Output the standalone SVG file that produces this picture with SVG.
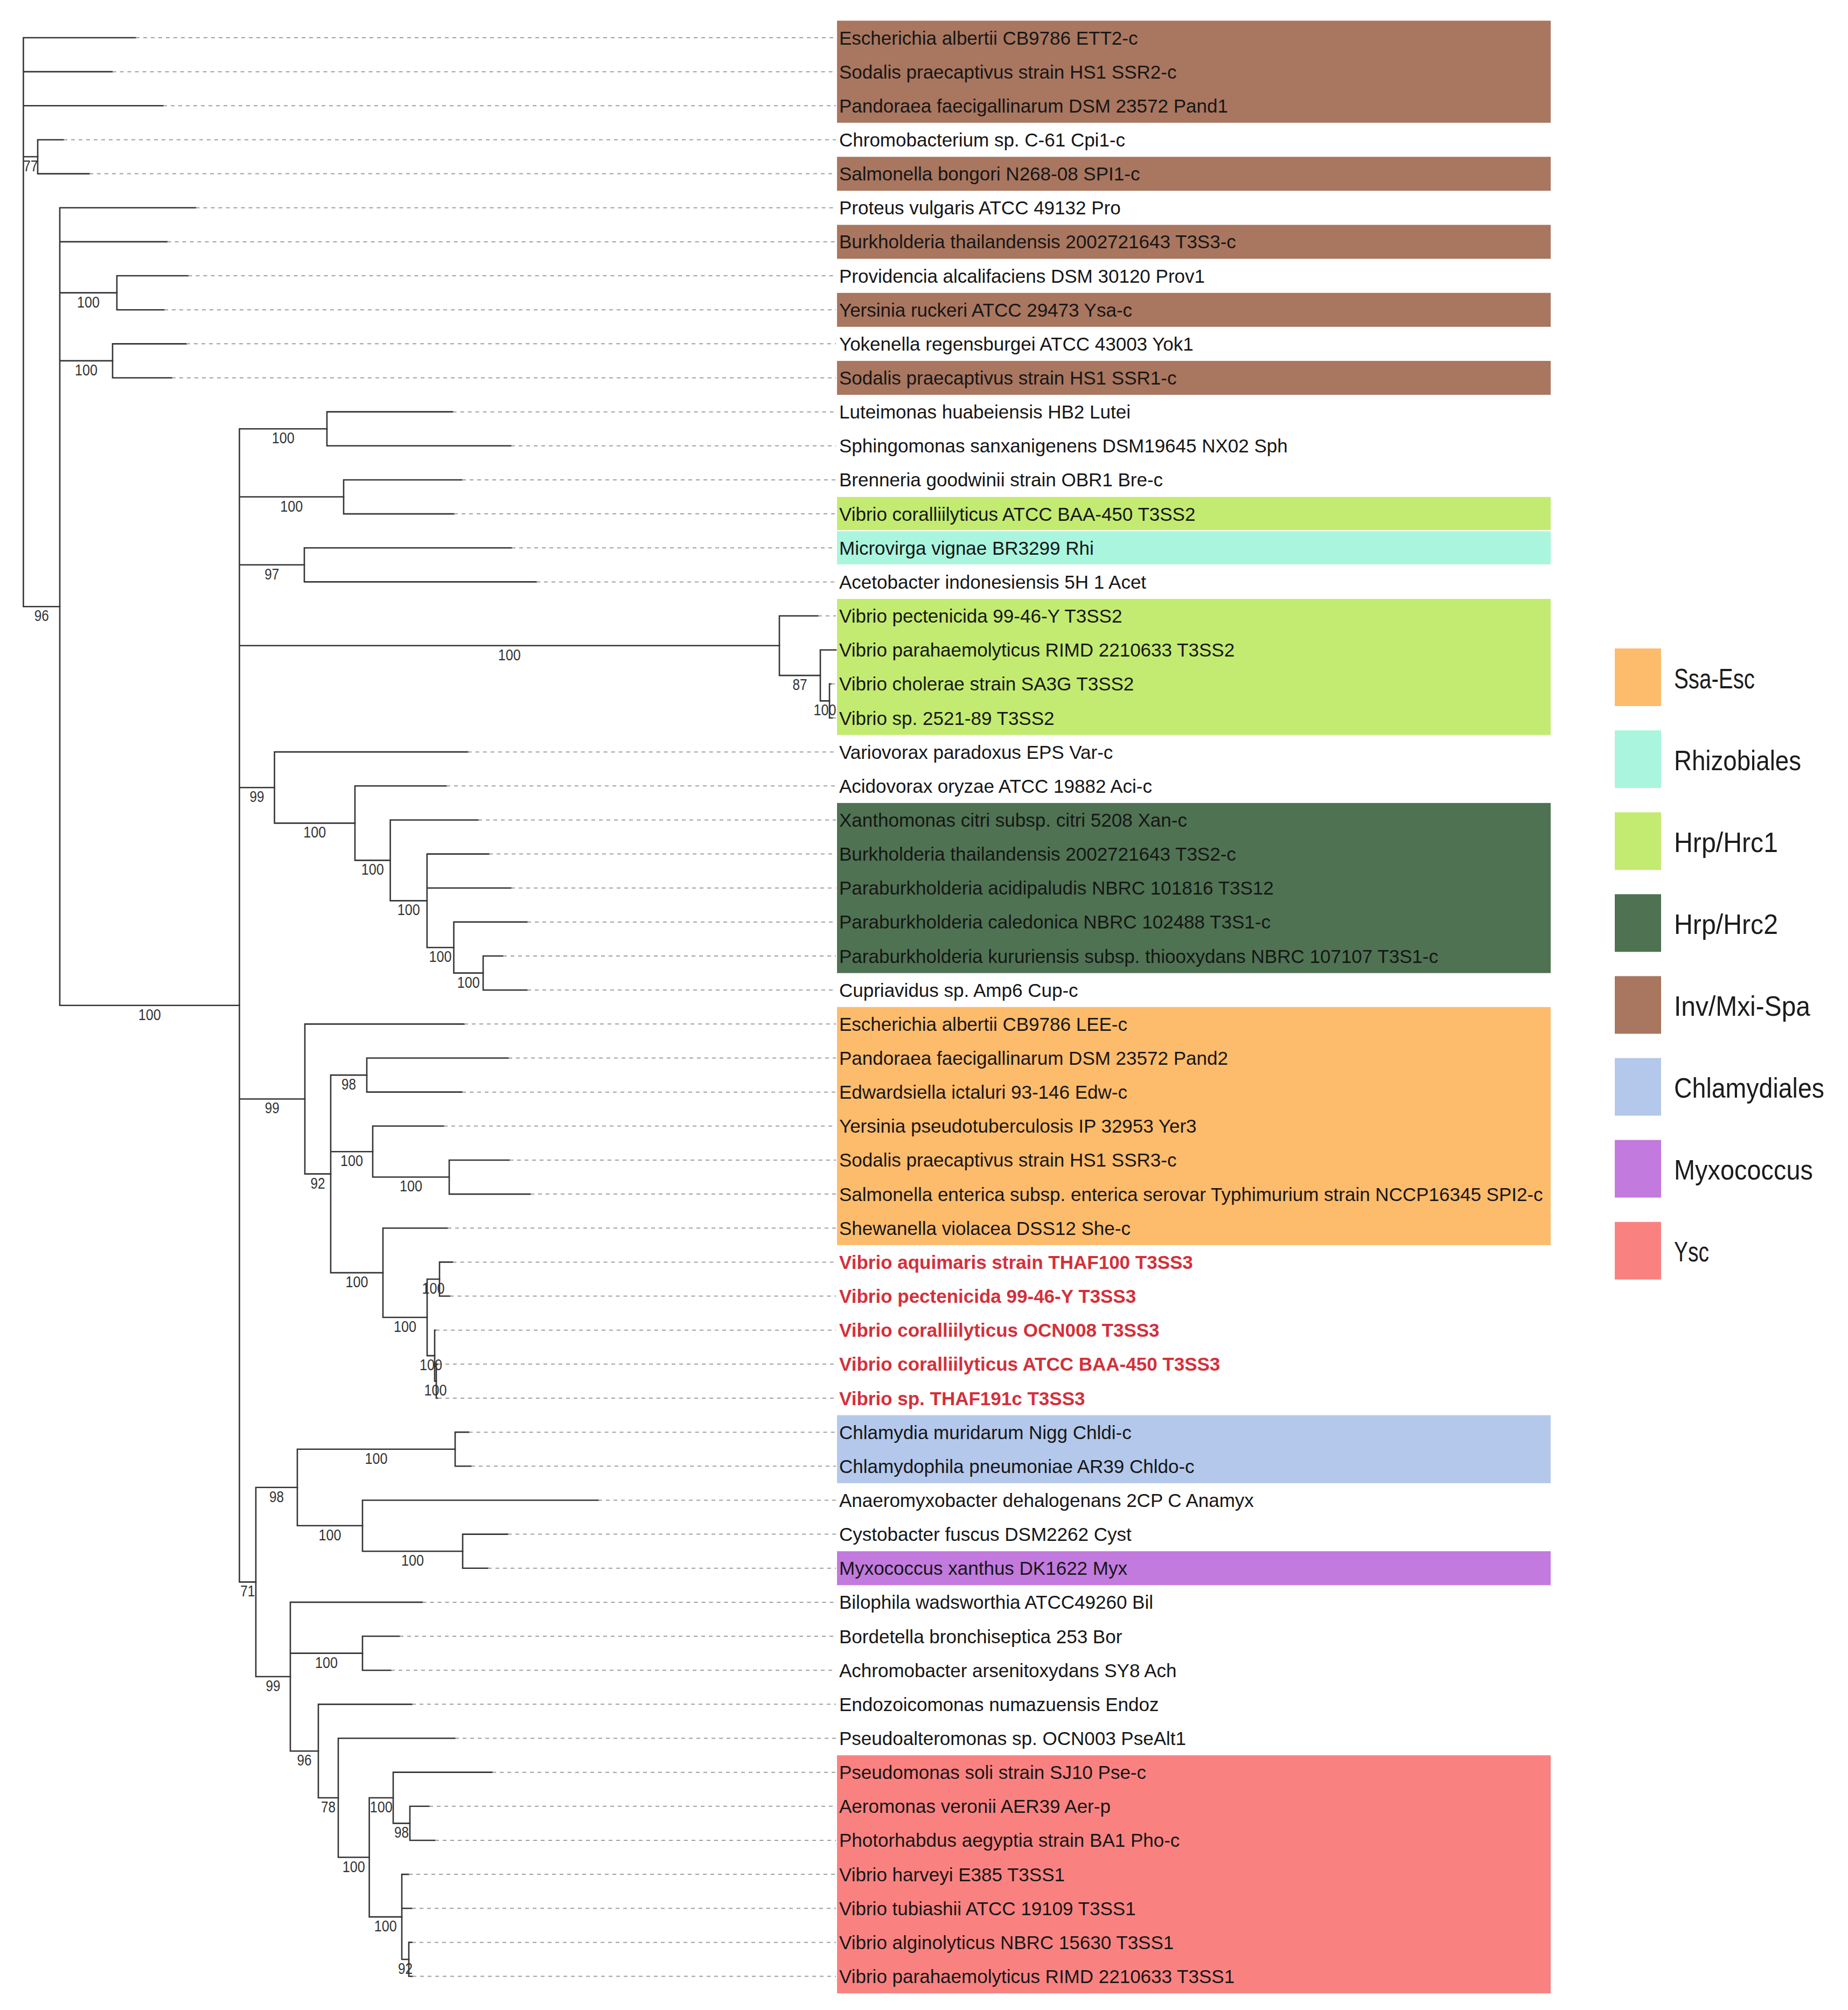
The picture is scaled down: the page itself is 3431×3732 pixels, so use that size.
<svg xmlns="http://www.w3.org/2000/svg" width="3431" height="3732" viewBox="0 0 3431 3732">
<style>
.br{stroke:#353535;stroke-width:2.6;fill:none;stroke-linecap:square}
.dot{stroke:#a0a0a0;stroke-width:2;stroke-dasharray:7 7;fill:none}
.lbl{font-family:"Liberation Sans",Arial,sans-serif;font-size:35px;fill:#161616}
.red{fill:#d4303a;font-weight:bold}
.bs{font-family:"Liberation Sans",Arial,sans-serif;font-size:29px;fill:#333;text-anchor:middle}
.lg{font-family:"Liberation Sans",Arial,sans-serif;font-size:52px;fill:#1c1c1c}
.inv{fill:#a9765f}.hrc1{fill:#c3eb71}.rhi{fill:#a9f5de}.hrc2{fill:#4f7252}.ssa{fill:#fdbb6c}.chl{fill:#b4c8eb}.myx{fill:#c27ade}.ysc{fill:#f98281}
</style>
<rect width="3431" height="3732" fill="#fff"/>
<g id="highlights">
<rect class="inv" x="1554" y="38.4" width="1325" height="189.5"/>
<rect class="inv" x="1554" y="291.2" width="1325" height="63"/>
<rect class="inv" x="1554" y="417.5" width="1325" height="63"/>
<rect class="inv" x="1554" y="543.8" width="1325" height="63"/>
<rect class="inv" x="1554" y="670.1" width="1325" height="63"/>
<rect class="hrc1" x="1554" y="922.7" width="1325" height="61.5"/>
<rect class="rhi" x="1554" y="986.4" width="1325" height="61.5"/>
<rect class="hrc1" x="1554" y="1112" width="1325" height="252.6"/>
<rect class="hrc2" x="1554" y="1490.9" width="1325" height="315.8"/>
<rect class="ssa" x="1554" y="1869.8" width="1325" height="442"/>
<rect class="chl" x="1554" y="2627.6" width="1325" height="126.3"/>
<rect class="myx" x="1554" y="2880.2" width="1325" height="63"/>
<rect class="ysc" x="1554" y="3259.1" width="1325" height="442"/>
</g>
<g id="connectors">
<path class="br" d="M43.4,70V1126.3M43.4,70H252M43.4,133.15H208.6M43.4,196.3H303M43.4,291H70M43.4,1126.3H111"/>
<path class="br" d="M70,259.45V322.6M70,259.45H118M70,322.6H166"/>
<path class="br" d="M111,385.75V1866.8M111,385.75H363.5M111,448.9H310.6M111,543.6H217M111,669.9H209M111,1866.8H444.5"/>
<path class="br" d="M217,512.05V575.2M217,512.05H349.5M217,575.2H305"/>
<path class="br" d="M209,638.35V701.5M209,638.35H346M209,701.5H319"/>
<path class="br" d="M444.5,796.2V2937.4M444.5,796.2H607M444.5,922.5H638M444.5,1048.8H565M444.5,1198.8H1447M444.5,1462.3H509.6M444.5,2040.5H566M444.5,2937.4H475"/>
<path class="br" d="M607,764.65V827.8M607,764.65H840.6M607,827.8H949"/>
<path class="br" d="M638,890.95V954.1M638,890.95H858M638,954.1H843"/>
<path class="br" d="M565,1017.25V1080.4M565,1017.25H950M565,1080.4H996"/>
<path class="br" d="M1447,1143.55V1254.1M1447,1143.55H1519M1447,1254.1H1523"/>
<path class="br" d="M1523,1206.7V1301.4M1523,1206.7H1552M1523,1301.4H1540"/>
<path class="br" d="M1540,1269.85V1333M1540,1269.85H1543M1540,1333H1546"/>
<path class="br" d="M509.6,1396.15V1528.4M509.6,1396.15H868.7M509.6,1528.4H659"/>
<path class="br" d="M659,1459.3V1597.4M659,1459.3H829M659,1597.4H724.6"/>
<path class="br" d="M724.6,1522.45V1672.4M724.6,1522.45H888M724.6,1672.4H792.8"/>
<path class="br" d="M792.8,1585.6V1759.3M792.8,1585.6H908M792.8,1648.75H949M792.8,1759.3H842.5"/>
<path class="br" d="M842.5,1711.9V1806.6M842.5,1711.9H979M842.5,1806.6H897"/>
<path class="br" d="M897,1775.05V1838.2M897,1775.05H934M897,1838.2H979"/>
<path class="br" d="M566,1901.35V2179.6M566,1901.35H862M566,2179.6H614"/>
<path class="br" d="M614,1996.1V2363.1M614,1996.1H681M614,2138.2H692M614,2363.1H711"/>
<path class="br" d="M681,1964.5V2027.65M681,1964.5H944M681,2027.65H858"/>
<path class="br" d="M692,2090.8V2185.5M692,2090.8H824M692,2185.5H834"/>
<path class="br" d="M834,2153.95V2217.1M834,2153.95H946M834,2217.1H985"/>
<path class="br" d="M711,2280.25V2446M711,2280.25H831M711,2446H793"/>
<path class="br" d="M793,2375V2517.1M793,2375H816M793,2517.1H807"/>
<path class="br" d="M816,2343.4V2406.55M816,2343.4H840.6M816,2406.55H835.5"/>
<path class="br" d="M807,2469.7V2564.4M807,2469.7H809M807,2564.4H810"/>
<path class="br" d="M810,2532.85V2596M810,2532.85H813M810,2596H813"/>
<path class="br" d="M475,2761.8V3113M475,2761.8H552M475,3113H539"/>
<path class="br" d="M552,2690.7V2832.8M552,2690.7H845M552,2832.8H673"/>
<path class="br" d="M845,2659.15V2722.3M845,2659.15H870.6M845,2722.3H875"/>
<path class="br" d="M673,2785.45V2880.2M673,2785.45H1111M673,2880.2H859"/>
<path class="br" d="M859,2848.6V2911.75M859,2848.6H943M859,2911.75H906"/>
<path class="br" d="M539,2974.9V3251.2M539,2974.9H784.5M539,3069.6H673M539,3251.2H591"/>
<path class="br" d="M673,3038.05V3101.2M673,3038.05H742M673,3101.2H726"/>
<path class="br" d="M591,3164.35V3338M591,3164.35H765M591,3338H628"/>
<path class="br" d="M628,3227.5V3448.5M628,3227.5H845M628,3448.5H685.6"/>
<path class="br" d="M685.6,3338V3559.1M685.6,3338H730M685.6,3559.1H746"/>
<path class="br" d="M730,3290.65V3385.4M730,3290.65H914M730,3385.4H761"/>
<path class="br" d="M761,3353.8V3416.95M761,3353.8H797M761,3416.95H808"/>
<path class="br" d="M746,3480.1V3638M746,3480.1H759M746,3543.25H765M746,3638H759"/>
<path class="br" d="M759,3606.4V3669.55M759,3606.4H765M759,3669.55H766"/>
<path class="dot" d="M252,70H1552M208.6,133.15H1552M303,196.3H1552M118,259.45H1552M166,322.6H1552M363.5,385.75H1552M310.6,448.9H1552M349.5,512.05H1552M305,575.2H1552M346,638.35H1552M319,701.5H1552M840.6,764.65H1552M949,827.8H1552M858,890.95H1552M843,954.1H1552M950,1017.25H1552M996,1080.4H1552M1519,1143.55H1552M1543,1269.85H1552M1546,1333H1552M868.7,1396.15H1552M829,1459.3H1552M888,1522.45H1552M908,1585.6H1552M949,1648.75H1552M979,1711.9H1552M934,1775.05H1552M979,1838.2H1552M862,1901.35H1552M944,1964.5H1552M858,2027.65H1552M824,2090.8H1552M946,2153.95H1552M985,2217.1H1552M831,2280.25H1552M840.6,2343.4H1552M835.5,2406.55H1552M809,2469.7H1552M813,2532.85H1552M813,2596H1552M870.6,2659.15H1552M875,2722.3H1552M1111,2785.45H1552M943,2848.6H1552M906,2911.75H1552M784.5,2974.9H1552M742,3038.05H1552M726,3101.2H1552M765,3164.35H1552M845,3227.5H1552M914,3290.65H1552M797,3353.8H1552M808,3416.95H1552M759,3480.1H1552M765,3543.25H1552M765,3606.4H1552M766,3669.55H1552"/>
</g>
<g id="support">
<text class="bs" x="56.7" y="318" textLength="27" lengthAdjust="spacingAndGlyphs">77</text>
<text class="bs" x="77.2" y="1153" textLength="27" lengthAdjust="spacingAndGlyphs">96</text>
<text class="bs" x="164" y="570.6" textLength="42" lengthAdjust="spacingAndGlyphs">100</text>
<text class="bs" x="160" y="697" textLength="42" lengthAdjust="spacingAndGlyphs">100</text>
<text class="bs" x="277.8" y="1894" textLength="42" lengthAdjust="spacingAndGlyphs">100</text>
<text class="bs" x="525.8" y="823" textLength="42" lengthAdjust="spacingAndGlyphs">100</text>
<text class="bs" x="541.3" y="949.5" textLength="42" lengthAdjust="spacingAndGlyphs">100</text>
<text class="bs" x="504.8" y="1076" textLength="27" lengthAdjust="spacingAndGlyphs">97</text>
<text class="bs" x="945.8" y="1226" textLength="42" lengthAdjust="spacingAndGlyphs">100</text>
<text class="bs" x="1485" y="1281" textLength="27" lengthAdjust="spacingAndGlyphs">87</text>
<text class="bs" x="1531.5" y="1328" textLength="42" lengthAdjust="spacingAndGlyphs">100</text>
<text class="bs" x="477" y="1489" textLength="27" lengthAdjust="spacingAndGlyphs">99</text>
<text class="bs" x="584.3" y="1555" textLength="42" lengthAdjust="spacingAndGlyphs">100</text>
<text class="bs" x="691.8" y="1624" textLength="42" lengthAdjust="spacingAndGlyphs">100</text>
<text class="bs" x="758.7" y="1699" textLength="42" lengthAdjust="spacingAndGlyphs">100</text>
<text class="bs" x="817.6" y="1786" textLength="42" lengthAdjust="spacingAndGlyphs">100</text>
<text class="bs" x="869.7" y="1834" textLength="42" lengthAdjust="spacingAndGlyphs">100</text>
<text class="bs" x="505.2" y="2067" textLength="27" lengthAdjust="spacingAndGlyphs">99</text>
<text class="bs" x="590" y="2207" textLength="27" lengthAdjust="spacingAndGlyphs">92</text>
<text class="bs" x="647.5" y="2023" textLength="27" lengthAdjust="spacingAndGlyphs">98</text>
<text class="bs" x="653" y="2165" textLength="42" lengthAdjust="spacingAndGlyphs">100</text>
<text class="bs" x="763" y="2212" textLength="42" lengthAdjust="spacingAndGlyphs">100</text>
<text class="bs" x="662.5" y="2390" textLength="42" lengthAdjust="spacingAndGlyphs">100</text>
<text class="bs" x="752" y="2473" textLength="42" lengthAdjust="spacingAndGlyphs">100</text>
<text class="bs" x="804.5" y="2402" textLength="42" lengthAdjust="spacingAndGlyphs">100</text>
<text class="bs" x="800" y="2544" textLength="42" lengthAdjust="spacingAndGlyphs">100</text>
<text class="bs" x="808.5" y="2591" textLength="42" lengthAdjust="spacingAndGlyphs">100</text>
<text class="bs" x="459.8" y="2964" textLength="27" lengthAdjust="spacingAndGlyphs">71</text>
<text class="bs" x="513.5" y="2789" textLength="27" lengthAdjust="spacingAndGlyphs">98</text>
<text class="bs" x="698.5" y="2718" textLength="42" lengthAdjust="spacingAndGlyphs">100</text>
<text class="bs" x="612.5" y="2860" textLength="42" lengthAdjust="spacingAndGlyphs">100</text>
<text class="bs" x="766" y="2907" textLength="42" lengthAdjust="spacingAndGlyphs">100</text>
<text class="bs" x="507" y="3140" textLength="27" lengthAdjust="spacingAndGlyphs">99</text>
<text class="bs" x="606" y="3097" textLength="42" lengthAdjust="spacingAndGlyphs">100</text>
<text class="bs" x="565" y="3278" textLength="27" lengthAdjust="spacingAndGlyphs">96</text>
<text class="bs" x="609.5" y="3365" textLength="27" lengthAdjust="spacingAndGlyphs">78</text>
<text class="bs" x="656.8" y="3476" textLength="42" lengthAdjust="spacingAndGlyphs">100</text>
<text class="bs" x="707.8" y="3365" textLength="42" lengthAdjust="spacingAndGlyphs">100</text>
<text class="bs" x="745.5" y="3412" textLength="27" lengthAdjust="spacingAndGlyphs">98</text>
<text class="bs" x="715.8" y="3586" textLength="42" lengthAdjust="spacingAndGlyphs">100</text>
<text class="bs" x="752.5" y="3665" textLength="27" lengthAdjust="spacingAndGlyphs">92</text>
</g>
<g id="leaves" class="lbl">
<g id="leaf01"><text x="1558" y="82.5">Escherichia albertii CB9786 ETT2-c</text></g>
<g id="leaf02"><text x="1558" y="145.65">Sodalis praecaptivus strain HS1 SSR2-c</text></g>
<g id="leaf03"><text x="1558" y="208.8">Pandoraea faecigallinarum DSM 23572 Pand1</text></g>
<g id="leaf04"><text x="1558" y="271.95">Chromobacterium sp. C-61 Cpi1-c</text></g>
<g id="leaf05"><text x="1558" y="335.1">Salmonella bongori N268-08 SPI1-c</text></g>
<g id="leaf06"><text x="1558" y="398.25">Proteus vulgaris ATCC 49132 Pro</text></g>
<g id="leaf07"><text x="1558" y="461.4">Burkholderia thailandensis 2002721643 T3S3-c</text></g>
<g id="leaf08"><text x="1558" y="524.55">Providencia alcalifaciens DSM 30120 Prov1</text></g>
<g id="leaf09"><text x="1558" y="587.7">Yersinia ruckeri ATCC 29473 Ysa-c</text></g>
<g id="leaf10"><text x="1558" y="650.85">Yokenella regensburgei ATCC 43003 Yok1</text></g>
<g id="leaf11"><text x="1558" y="714">Sodalis praecaptivus strain HS1 SSR1-c</text></g>
<g id="leaf12"><text x="1558" y="777.15">Luteimonas huabeiensis HB2 Lutei</text></g>
<g id="leaf13"><text x="1558" y="840.3">Sphingomonas sanxanigenens DSM19645 NX02 Sph</text></g>
<g id="leaf14"><text x="1558" y="903.45">Brenneria goodwinii strain OBR1 Bre-c</text></g>
<g id="leaf15"><text x="1558" y="966.6">Vibrio coralliilyticus ATCC BAA-450 T3SS2</text></g>
<g id="leaf16"><text x="1558" y="1029.75">Microvirga vignae BR3299 Rhi</text></g>
<g id="leaf17"><text x="1558" y="1092.9">Acetobacter indonesiensis 5H 1 Acet</text></g>
<g id="leaf18"><text x="1558" y="1156.05">Vibrio pectenicida 99-46-Y T3SS2</text></g>
<g id="leaf19"><text x="1558" y="1219.2">Vibrio parahaemolyticus RIMD 2210633 T3SS2</text></g>
<g id="leaf20"><text x="1558" y="1282.35">Vibrio cholerae strain SA3G T3SS2</text></g>
<g id="leaf21"><text x="1558" y="1345.5">Vibrio sp. 2521-89 T3SS2</text></g>
<g id="leaf22"><text x="1558" y="1408.65">Variovorax paradoxus EPS Var-c</text></g>
<g id="leaf23"><text x="1558" y="1471.8">Acidovorax oryzae ATCC 19882 Aci-c</text></g>
<g id="leaf24"><text x="1558" y="1534.95">Xanthomonas citri subsp. citri 5208 Xan-c</text></g>
<g id="leaf25"><text x="1558" y="1598.1">Burkholderia thailandensis 2002721643 T3S2-c</text></g>
<g id="leaf26"><text x="1558" y="1661.25">Paraburkholderia acidipaludis NBRC 101816 T3S12</text></g>
<g id="leaf27"><text x="1558" y="1724.4">Paraburkholderia caledonica NBRC 102488 T3S1-c</text></g>
<g id="leaf28"><text x="1558" y="1787.55">Paraburkholderia kururiensis subsp. thiooxydans NBRC 107107 T3S1-c</text></g>
<g id="leaf29"><text x="1558" y="1850.7">Cupriavidus sp. Amp6 Cup-c</text></g>
<g id="leaf30"><text x="1558" y="1913.85">Escherichia albertii CB9786 LEE-c</text></g>
<g id="leaf31"><text x="1558" y="1977">Pandoraea faecigallinarum DSM 23572 Pand2</text></g>
<g id="leaf32"><text x="1558" y="2040.15">Edwardsiella ictaluri 93-146 Edw-c</text></g>
<g id="leaf33"><text x="1558" y="2103.3">Yersinia pseudotuberculosis IP 32953 Yer3</text></g>
<g id="leaf34"><text x="1558" y="2166.45">Sodalis praecaptivus strain HS1 SSR3-c</text></g>
<g id="leaf35"><text x="1558" y="2229.6">Salmonella enterica subsp. enterica serovar Typhimurium strain NCCP16345 SPI2-c</text></g>
<g id="leaf36"><text x="1558" y="2292.75">Shewanella violacea DSS12 She-c</text></g>
<g id="leaf37"><text class="red" x="1558" y="2355.9">Vibrio aquimaris strain THAF100 T3SS3</text></g>
<g id="leaf38"><text class="red" x="1558" y="2419.05">Vibrio pectenicida 99-46-Y T3SS3</text></g>
<g id="leaf39"><text class="red" x="1558" y="2482.2">Vibrio coralliilyticus OCN008 T3SS3</text></g>
<g id="leaf40"><text class="red" x="1558" y="2545.35">Vibrio coralliilyticus ATCC BAA-450 T3SS3</text></g>
<g id="leaf41"><text class="red" x="1558" y="2608.5">Vibrio sp. THAF191c T3SS3</text></g>
<g id="leaf42"><text x="1558" y="2671.65">Chlamydia muridarum Nigg Chldi-c</text></g>
<g id="leaf43"><text x="1558" y="2734.8">Chlamydophila pneumoniae AR39 Chldo-c</text></g>
<g id="leaf44"><text x="1558" y="2797.95">Anaeromyxobacter dehalogenans 2CP C Anamyx</text></g>
<g id="leaf45"><text x="1558" y="2861.1">Cystobacter fuscus DSM2262 Cyst</text></g>
<g id="leaf46"><text x="1558" y="2924.25">Myxococcus xanthus DK1622 Myx</text></g>
<g id="leaf47"><text x="1558" y="2987.4">Bilophila wadsworthia ATCC49260 Bil</text></g>
<g id="leaf48"><text x="1558" y="3050.55">Bordetella bronchiseptica 253 Bor</text></g>
<g id="leaf49"><text x="1558" y="3113.7">Achromobacter arsenitoxydans SY8 Ach</text></g>
<g id="leaf50"><text x="1558" y="3176.85">Endozoicomonas numazuensis Endoz</text></g>
<g id="leaf51"><text x="1558" y="3240">Pseudoalteromonas sp. OCN003 PseAlt1</text></g>
<g id="leaf52"><text x="1558" y="3303.15">Pseudomonas soli strain SJ10 Pse-c</text></g>
<g id="leaf53"><text x="1558" y="3366.3">Aeromonas veronii AER39 Aer-p</text></g>
<g id="leaf54"><text x="1558" y="3429.45">Photorhabdus aegyptia strain BA1 Pho-c</text></g>
<g id="leaf55"><text x="1558" y="3492.6">Vibrio harveyi E385 T3SS1</text></g>
<g id="leaf56"><text x="1558" y="3555.75">Vibrio tubiashii ATCC 19109 T3SS1</text></g>
<g id="leaf57"><text x="1558" y="3618.9">Vibrio alginolyticus NBRC 15630 T3SS1</text></g>
<g id="leaf58"><text x="1558" y="3682.05">Vibrio parahaemolyticus RIMD 2210633 T3SS1</text></g>
</g>
<g id="legend">
<g id="lg-ssa"><rect class="ssa" x="2998" y="1204" width="86" height="107"/><text class="lg" x="3108" y="1277.5" textLength="150" lengthAdjust="spacingAndGlyphs">Ssa-Esc</text></g>
<g id="lg-rhi"><rect class="rhi" x="2998" y="1356.1" width="86" height="107"/><text class="lg" x="3108" y="1429.6" textLength="236" lengthAdjust="spacingAndGlyphs">Rhizobiales</text></g>
<g id="lg-hrc1"><rect class="hrc1" x="2998" y="1508.2" width="86" height="107"/><text class="lg" x="3108" y="1581.7" textLength="193" lengthAdjust="spacingAndGlyphs">Hrp/Hrc1</text></g>
<g id="lg-hrc2"><rect class="hrc2" x="2998" y="1660.3" width="86" height="107"/><text class="lg" x="3108" y="1733.8" textLength="193" lengthAdjust="spacingAndGlyphs">Hrp/Hrc2</text></g>
<g id="lg-inv"><rect class="inv" x="2998" y="1812.4" width="86" height="107"/><text class="lg" x="3108" y="1885.9" textLength="253" lengthAdjust="spacingAndGlyphs">Inv/Mxi-Spa</text></g>
<g id="lg-chl"><rect class="chl" x="2998" y="1964.5" width="86" height="107"/><text class="lg" x="3108" y="2038" textLength="279" lengthAdjust="spacingAndGlyphs">Chlamydiales</text></g>
<g id="lg-myx"><rect class="myx" x="2998" y="2116.6" width="86" height="107"/><text class="lg" x="3108" y="2190.1" textLength="258" lengthAdjust="spacingAndGlyphs">Myxococcus</text></g>
<g id="lg-ysc"><rect class="ysc" x="2998" y="2268.7" width="86" height="107"/><text class="lg" x="3108" y="2342.2" textLength="65" lengthAdjust="spacingAndGlyphs">Ysc</text></g>
</g>
</svg>
